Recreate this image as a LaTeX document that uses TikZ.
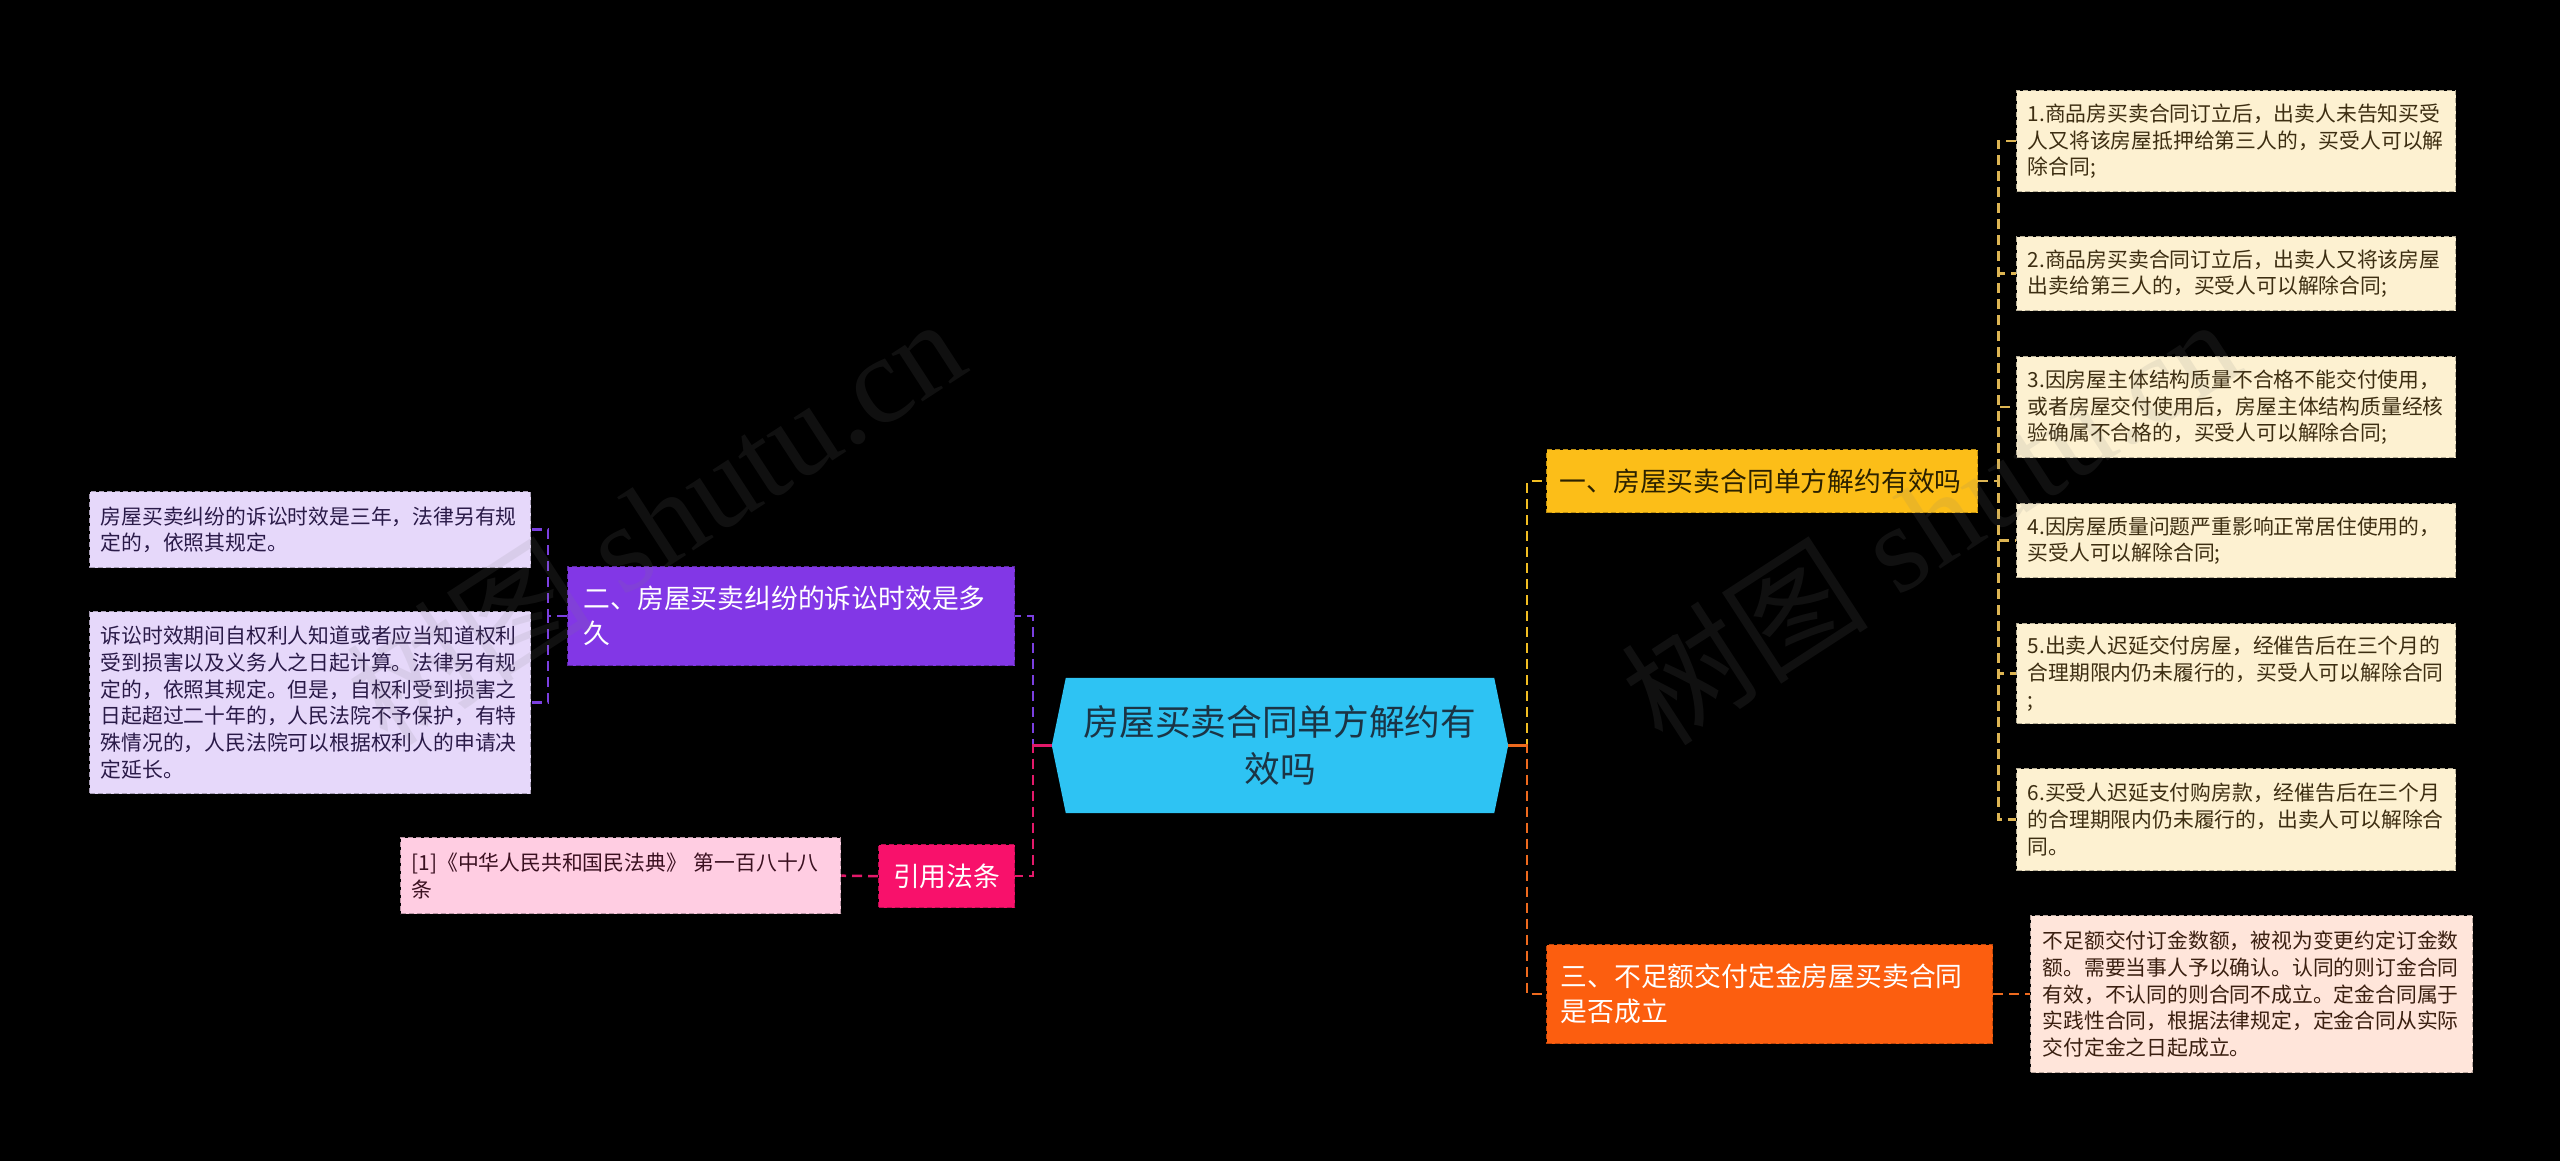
\documentclass[tikz,border=0pt]{standalone}
\usepackage{fontspec}
\setmainfont{Noto Sans CJK SC}
\newfontfamily\wmlatin{Liberation Serif}
\newfontfamily\cjk{Noto Sans CJK SC}
\usetikzlibrary{calc}
\definecolor{cfill}{HTML}{2EC3F3}
\definecolor{ctext}{HTML}{1B3445}
\definecolor{yfill}{HTML}{FCBE18}
\definecolor{ytext}{HTML}{2B2100}
\definecolor{ofill}{HTML}{FC5E0F}
\definecolor{pfill}{HTML}{8237E6}
\definecolor{kfill}{HTML}{F8116B}
\definecolor{ylf}{HTML}{FDF1D1}
\definecolor{ylt}{HTML}{3D2E12}
\definecolor{olf}{HTML}{FFE5DA}
\definecolor{olt}{HTML}{3A1F10}
\definecolor{plf}{HTML}{E6D8FA}
\definecolor{plt}{HTML}{2A1A48}
\definecolor{klf}{HTML}{FFCDE2}
\definecolor{klt}{HTML}{3A1020}
\definecolor{yline}{HTML}{F2BE22}
\definecolor{yleafline}{HTML}{DDB553}
\definecolor{oline}{HTML}{EE6A1E}
\definecolor{pline}{HTML}{7B3FE0}
\definecolor{kline}{HTML}{E3196A}
\tikzset{
  box/.style={anchor=north west, inner ysep=0pt, align=left, line width=1.4pt, dash pattern=on 5pt off 3pt},
  leaffont/.style={font=\fontsize{20.8}{26.7}\selectfont},
  midfont/.style={font=\fontsize{26.8}{35}\selectfont},
  yleaf/.style={box, leaffont, fill=ylf, draw=ylf!72!black, text=ylt, inner xsep=11pt, text width=417pt},
  oleaf/.style={box, leaffont, fill=olf, draw=olf!72!black, text=olt, inner xsep=12pt, text width=418pt},
  pleaf/.style={box, leaffont, fill=plf, draw=plf!72!black, text=plt, inner xsep=11pt, text width=419pt},
  kleaf/.style={box, leaffont, fill=klf, draw=klf!72!black, text=klt, inner xsep=11pt, text width=418pt},
  conn/.style={line width=2.5pt, dash pattern=on 10pt off 6pt},
  stub/.style={line width=2.5pt},
  wm/.style={text=gray, text opacity=0.13, font=\fontsize{124}{124}\selectfont\wmlatin, inner sep=0pt}
}
\begin{document}
\begin{tikzpicture}[x=1pt,y=-1pt]
\useasboundingbox (0,0) rectangle (2560,1161);
\fill[black] (0,0) rectangle (2560,1161);

% central topic
\node[minimum width=456pt, minimum height=135pt, inner sep=0pt, align=center,
      text=ctext, font=\fontsize{35.7}{47}\selectfont] (c) at (1280,745.5) {\phantom{x}};
\fill[cfill] (c.west) -- ($(c.north west)+(14,0)$) -- ($(c.north east)+(-14,0)$) -- (c.east)
   -- ($(c.south east)+(-14,0)$) -- ($(c.south west)+(14,0)$) -- cycle;
\node[align=center, text=ctext, font=\fontsize{35.7}{47}\selectfont, inner sep=0pt] (ct) at (c.center)
   {房屋买卖合同单方解约有\\效吗};

% main branches
\node[box, midfont, fill=yfill, draw=yfill!75!black, text=ytext, inner xsep=13pt,
      text width=405pt, minimum height=63pt] (b1) at (1546,449) {一、房屋买卖合同单方解约有效吗};
\node[box, midfont, fill=ofill, draw=ofill!75!black, text=white, inner xsep=14pt,
      text width=418pt, minimum height=99pt] (b3) at (1546,944) {三、不足额交付定金房屋买卖合同\\是否成立};
\node[box, midfont, fill=pfill, draw=pfill!70!black, text=white, inner xsep=16pt,
      text width=415pt, minimum height=99pt] (b2) at (567,566) {二、房屋买卖纠纷的诉讼时效是多\\久};
\node[box, midfont, fill=kfill, draw=kfill!75!black, text=white, inner xsep=0pt, align=center,
      text width=136pt, minimum height=63pt] (b4) at (878,844) {引用法条};

% leaves of branch 1
\node[yleaf, minimum height=101pt] (l1) at (2016,90) {1.商品房买卖合同订立后，出卖人未告知买受\\人又将该房屋抵押给第三人的，买受人可以解\\除合同;};
\node[yleaf, minimum height=74pt] (l2) at (2016,236) {2.商品房买卖合同订立后，出卖人又将该房屋\\出卖给第三人的，买受人可以解除合同;};
\node[yleaf, minimum height=101pt] (l3) at (2016,356) {3.因房屋主体结构质量不合格不能交付使用，\\或者房屋交付使用后，房屋主体结构质量经核\\验确属不合格的，买受人可以解除合同;};
\node[yleaf, minimum height=74pt] (l4) at (2016,503) {4.因房屋质量问题严重影响正常居住使用的，\\买受人可以解除合同;};
\node[yleaf, minimum height=100pt] (l5) at (2016,623) {5.出卖人迟延交付房屋，经催告后在三个月的\\合理期限内仍未履行的，买受人可以解除合同\\;};
\node[yleaf, minimum height=102pt] (l6) at (2016,768) {6.买受人迟延支付购房款，经催告后在三个月\\的合理期限内仍未履行的，出卖人可以解除合\\同。};

% leaf of branch 3
\node[oleaf, minimum height=157pt] (o1) at (2030,915) {不足额交付订金数额，被视为变更约定订金数\\额。需要当事人予以确认。认同的则订金合同\\有效，不认同的则合同不成立。定金合同属于\\实践性合同，根据法律规定，定金合同从实际\\交付定金之日起成立。};

% leaves of branch 2
\node[pleaf, minimum height=76pt] (p1) at (89,491) {房屋买卖纠纷的诉讼时效是三年，法律另有规\\定的，依照其规定。};
\node[pleaf, minimum height=182pt] (p2) at (89,611) {诉讼时效期间自权利人知道或者应当知道权利\\受到损害以及义务人之日起计算。法律另有规\\定的，依照其规定。但是，自权利受到损害之\\日起超过二十年的，人民法院不予保护，有特\\殊情况的，人民法院可以根据权利人的申请决\\定延长。};

% leaf of branch 4
\node[kleaf, minimum height=76pt] (k1) at (400,837) {{[}1{]}《中华人民共和国民法典》 第一百八十八\\条};

% connectors from the centre
\coordinate (jr) at ($(c.east)+(19,0)$);
\coordinate (jl) at ($(c.west)+(-19,0)$);
\draw[conn, yline] (c.east) -- (jr) |- (b1.west);
\draw[conn, oline] (c.east) -- (jr) |- (b3.west);
\draw[stub, oline] (c.east) -- (jr);
\draw[conn, pline] (c.west) -- (jl) |- (b2.east);
\draw[conn, kline] (c.west) -- (jl) |- (b4.east);
\draw[stub, kline] (c.west) -- (jl);

% connectors to leaves
\foreach \n in {l1,l2,l3,l4,l5,l6}
  \draw[conn, yleafline] (b1.east) -- ++(20,0) |- (\n.west);
\draw[conn, oline] (b3.east) -- (o1.west);
\draw[conn, pline] (b2.west) -- ++(-19,0) |- (p1.east);
\draw[conn, pline] (b2.west) -- ++(-19,0) |- (p2.east);
\draw[conn, kline] (b4.west) -- (k1.west -| k1.east);

% watermarks
\node[wm, rotate=33] (wm1) at (655,520) {{\cjk 树图} shutu.cn};
\node[wm, rotate=33] (wm2) at (1930,520) {{\cjk 树图} shutu.cn};
\end{tikzpicture}
\end{document}
